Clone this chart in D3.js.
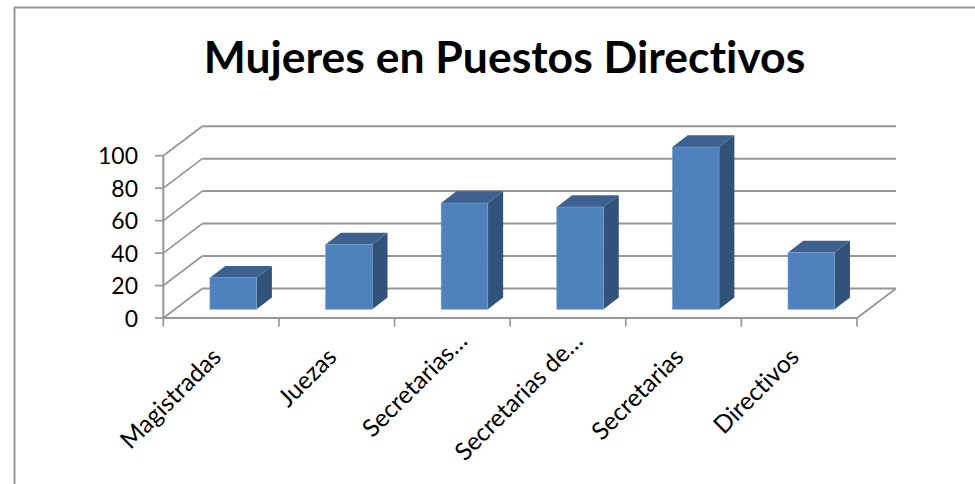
<!DOCTYPE html>
<html><head><meta charset="utf-8">
<script src="https://d3js.org/d3.v7.min.js"></script>
<style>html,body{margin:0;background:#fff;overflow:hidden}svg{display:block}text{font-family:Lato,"Open Sans",sans-serif;fill:#000;font-variant-ligatures:none}</style>
</head><body><svg id="c" width="975" height="484"></svg>
<script>
const categories = ["Magistradas","Juezas","Secretarias…","Secretarias de…","Secretarias","Directivos"];
const values = [19.5,40,65.5,63,100,35];
const yTicks = [0,20,40,60,80,100];
const titleText = "Mujeres en Puestos Directivos";

const svg = d3.select("#c");
const x = d3.scaleBand().domain(categories).range([163.3,857]);
const y = d3.scaleLinear().domain([0,100]).range([318,155.7]);
const back = {dx:39,dy:-29.5}, depth={dx:15.3,dy:-11.7};
const grey = "#969696";
const line=(a,b,c,d,w=2,col=grey)=>svg.append("line").attr("x1",a).attr("y1",b).attr("x2",c).attr("y2",d).attr("stroke",col).attr("stroke-width",w);

// frame (open on the right: it runs past the picture edge)
svg.append("path").attr("d","M14.5,484V7.5H975").attr("fill","none").attr("stroke",grey).attr("stroke-width",2);

svg.append("text").attr("x",504.5).attr("y",73).attr("text-anchor","middle")
  .attr("font-size",44.5).attr("font-weight",700).text(titleText);

// gridlines and wall diagonals
yTicks.forEach(t=>{
  const py=y(t);
  line(x.range()[0],py,x.range()[0]+back.dx,py+back.dy,1.7);
  line(x.range()[0]+back.dx,py+back.dy,x.range()[1]+back.dx,py+back.dy,2);
  line(155,py,163,py,1.7);
  svg.append("text").attr("x",138).attr("y",py+8.5).attr("text-anchor","end").attr("font-size",23).text(t);
});
line(163.3,y(0),163.3,y(100),2);
line(x.range()[0],y(0),x.range()[1],y(0),2);
line(x.range()[1],y(0),x.range()[1]+back.dx,y(0)+back.dy,1.7);
[...categories.map(c=>x(c)),x.range()[1]].forEach(v=>line(v,y(0),v,326.5,1.7));

// bars
const bw=46.7, offX=46.6, baseY=309.3, unit=y(0)-y(1);
const g=svg.selectAll("g.bar").data(categories.map((c,i)=>({c,v:values[i]}))).join("g").attr("class","bar");
g.each(function(d){
  const s=d3.select(this), l=x(d.c)+offX, r=l+bw, h=d.v*unit, t=baseY-h;
  const P=a=>a.map(p=>p.join(",")).join(" ");
  s.append("polygon").attr("points",P([[l,t],[r,t],[r+depth.dx,t+depth.dy],[l+depth.dx,t+depth.dy]])).attr("fill","#3c6190");
  s.append("polygon").attr("points",P([[r,t],[r+depth.dx,t+depth.dy],[r+depth.dx,baseY+depth.dy],[r,baseY]])).attr("fill","#325379");
  s.append("rect").attr("x",l).attr("y",t).attr("width",bw).attr("height",h).attr("fill","#4f81bd").attr("stroke","#7ea3d0").attr("stroke-width",0.5);
});

// category labels: truncated labels reach further along the 45° direction
categories.forEach(c=>{
  const cx=x(c)+x.bandwidth()/2+ (c.endsWith("…")?6:-9);
  const cy=c.endsWith("…")?332:348;
  svg.append("text").attr("transform",`translate(${cx},${cy}) rotate(-45)`)
    .attr("text-anchor","end").attr("dy","0.6em").attr("font-size",24.5).text(c);
});
</script></body></html>
